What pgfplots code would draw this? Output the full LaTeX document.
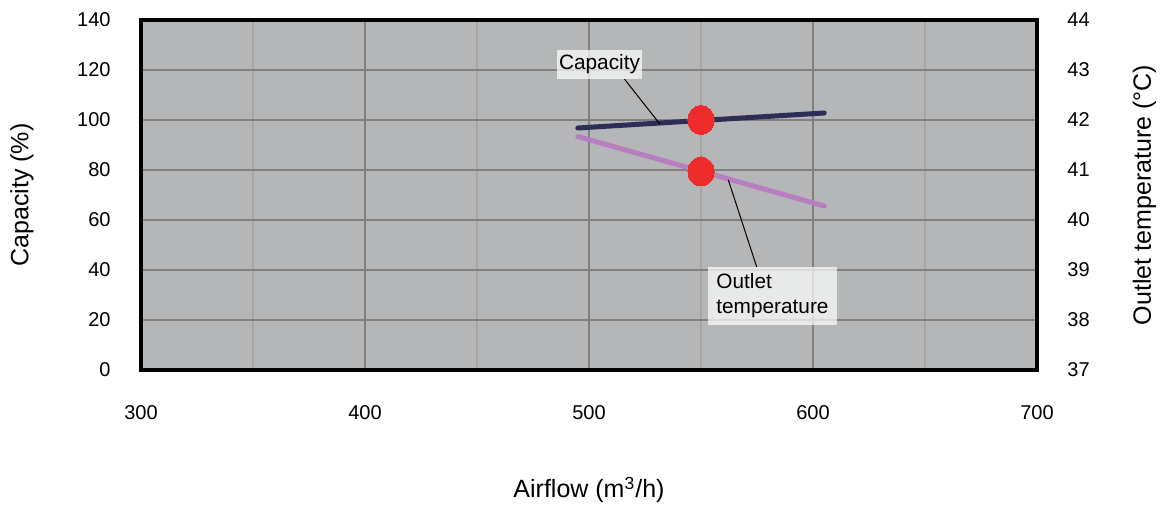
\documentclass[border=0pt]{standalone}
\usepackage{pgfplots}
\pgfplotsset{compat=1.18}
\usepackage{fontspec}
\setmainfont{Liberation Sans}
\definecolor{bg}{HTML}{B5B6B8}
\definecolor{gridmaj}{HTML}{808080}
\definecolor{gridmin}{HTML}{A6A6A6}
\definecolor{capnavy}{HTML}{2C2E57}
\definecolor{outorchid}{HTML}{B87FC0}
\definecolor{dotred}{HTML}{EE2B2B}
\begin{document}
\begin{tikzpicture}
\path[use as bounding box] (-70.5pt,-68.5pt) rectangle (512.5pt,185pt);
\begin{axis}[
  at={(0,0)}, anchor=south west,
  scale only axis, width=448pt, height=175pt,
  xmin=300, xmax=700, ymin=0, ymax=140,
  xtick={300,400,...,700}, minor xtick={350,450,550,650},
  ytick={0,20,...,140},
  xmajorgrids, xminorgrids, ymajorgrids,
  major grid style={gridmaj, line width=1pt},
  minor grid style={gridmin, line width=1pt},
  major tick length=0pt, minor tick length=0pt,
  axis line style={line width=1.75pt, black},
  axis background/.style={fill=bg},
  tick label style={font=\fontsize{10}{12}\selectfont},
  /pgf/number format/assume math mode=true,
  xticklabel style={anchor=center, yshift=-21.5pt},
  yticklabel style={anchor=east, inner sep=0pt, xshift=-15pt},
  xlabel={Airflow (m\textsuperscript{3}/h)},
  every axis x label/.style={at={(axis description cs:0.5,-0.343)}, anchor=center, font=\fontsize{12.5}{15}\selectfont},
  ylabel={Capacity (\%)},
  every axis y label/.style={at={(axis description cs:-0.1328,0.5)}, rotate=90, anchor=center, font=\fontsize{12.5}{15}\selectfont},
]
\addplot[capnavy, line width=2.5pt, line cap=round] coordinates {(495,96.8) (605,102.8)};
\draw[black, line width=0.5pt] (axis cs:515.8,116.4) -- (axis cs:531.7,98.3);
\addplot[dotred, only marks, mark=*, mark size=7.25pt, mark options={draw=dotred, fill=dotred, line width=0pt, xscale=0.9}] coordinates {(550,100)};
\node[fill=white, fill opacity=0.7, text opacity=1, inner sep=0pt, minimum width=42.8pt, minimum height=14.5pt, font=\fontsize{10.4}{12.5}\selectfont] at (axis cs:504.7,122.2) {Capacity};
\end{axis}
\begin{axis}[
  at={(0,0)}, anchor=south west,
  scale only axis, width=448pt, height=175pt,
  xmin=300, xmax=700, ymin=37, ymax=44,
  axis x line=none, axis y line*=right,
  ytick={37,38,...,44},
  major tick length=0pt, minor tick length=0pt,
  axis line style={-, line width=1.75pt, black},
  tick label style={font=\fontsize{10}{12}\selectfont},
  /pgf/number format/assume math mode=true,
  yticklabel style={anchor=west, inner sep=0pt, xshift=15pt},
  ylabel={Outlet temperature (°C)},
  every axis y label/.style={at={(axis description cs:1.12,0.5)}, rotate=90, anchor=center, font=\fontsize{12.5}{15}\selectfont},
]
\addplot[outorchid, line width=2.5pt, line cap=round] coordinates {(495,41.67) (605,40.28)};
\draw[black, line width=0.5pt] (axis cs:562.2,40.8) -- (axis cs:574.9,39.055);
\addplot[dotred, only marks, mark=*, mark size=7.25pt, mark options={draw=dotred, fill=dotred, line width=0pt, xscale=0.9}] coordinates {(550,40.97)};
\node[fill=white, fill opacity=0.7, text opacity=1, inner sep=0pt, minimum width=64.2pt, minimum height=28.9pt, align=left, font=\fontsize{10.4}{12.5}\selectfont] at (axis cs:581.9,38.48) {Outlet\\temperature};
\end{axis}
\end{tikzpicture}
\end{document}
